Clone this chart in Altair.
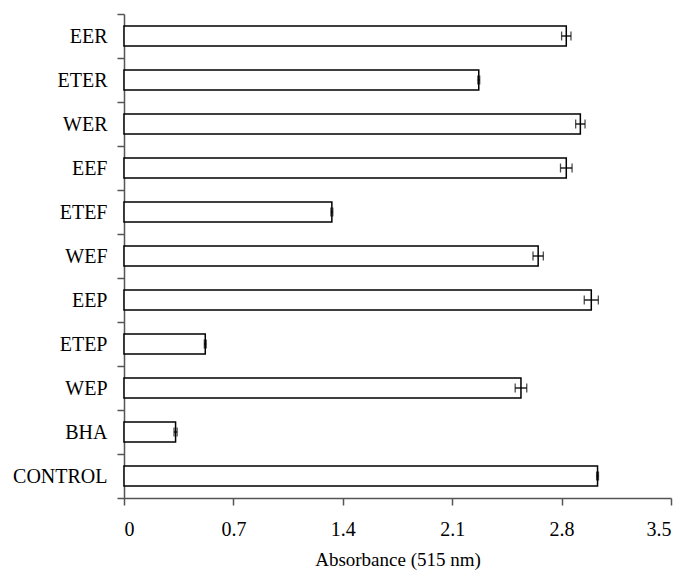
import altair as alt
import pandas as pd

categories = ["EER", "ETER", "WER", "EEF", "ETEF", "WEF", "EEP", "ETEP", "WEP", "BHA", "CONTROL"]
values = [2.83, 2.27, 2.92, 2.83, 1.33, 2.65, 2.99, 0.52, 2.54, 0.33, 3.03]
errors = [0.03, 0.006, 0.03, 0.037, 0.006, 0.033, 0.045, 0.006, 0.037, 0.01, 0.006]
x_ticks = [0, 0.7, 1.4, 2.1, 2.8, 3.5]

df = pd.DataFrame({"cat": categories, "val": values, "err": errors})
df["lo"] = df["val"] - df["err"]
df["hi"] = df["val"] + df["err"]

FONT = "Times New Roman, Liberation Serif, serif"
AXC = "#555555"

y_enc = alt.Y("cat:N", sort=categories, title=None,
              scale=alt.Scale(paddingInner=0, paddingOuter=0),
              axis=alt.Axis(tickBand="extent", labelFont=FONT, labelFontSize=20,
                            labelColor="black", domainColor=AXC, tickColor=AXC,
                            tickSize=7, labelPadding=10, domainWidth=1.5, tickWidth=1.5))
x_scale = alt.Scale(domain=[0, 3.5], nice=False)

bars = alt.Chart(df).mark_bar(fill="white", stroke="black", strokeWidth=1.5, size=20).encode(
    x=alt.X("val:Q", scale=x_scale, title="Absorbance (515 nm)",
            axis=alt.Axis(values=x_ticks, format="~g", labelFont=FONT, labelFontSize=20,
                          labelColor="black", titleFont=FONT, titleFontSize=19,
                          titleFontWeight="normal", titleColor="black", titlePadding=11,
                          domainColor=AXC, tickColor=AXC, tickSize=7, labelPadding=14,
                          grid=False, domainWidth=1.5, tickWidth=1.5)),
    y=y_enc,
)

err_line = alt.Chart(df).mark_rule(color="black", strokeWidth=1.3).encode(
    x=alt.X("lo:Q", scale=x_scale), x2="hi:Q", y=alt.Y("cat:N", sort=categories)
)
cap_lo = alt.Chart(df).mark_tick(color="black", thickness=1.3, size=9).encode(
    x=alt.X("lo:Q", scale=x_scale), y=alt.Y("cat:N", sort=categories)
)
cap_hi = alt.Chart(df).mark_tick(color="black", thickness=1.3, size=9).encode(
    x=alt.X("hi:Q", scale=x_scale), y=alt.Y("cat:N", sort=categories)
)

chart = alt.layer(bars, err_line, cap_lo, cap_hi).properties(
    width=547, height=484,
    autosize=alt.AutoSizeParams(type="none"),
    padding={"left": 116, "top": 6, "right": 11, "bottom": 73},
).configure_view(stroke=None).configure_axis(grid=False)

chart.save("out.html", embed_options={"renderer": "svg", "actions": False})
